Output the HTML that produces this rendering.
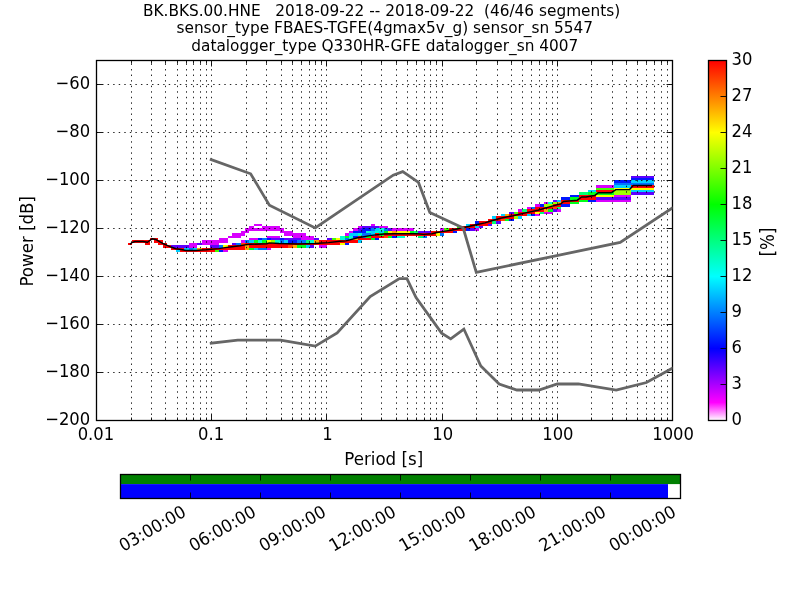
<!DOCTYPE html><html><head><meta charset="utf-8"><title>PPSD</title>
<style>html,body{margin:0;padding:0;background:#fff;}svg{display:block;}text{font-family:"DejaVu Sans","Liberation Sans",sans-serif;fill:#000;white-space:pre;}</style></head><body>
<svg width="800" height="600" viewBox="0 0 800 600">
<defs><linearGradient id="cb" x1="0" y1="1" x2="0" y2="0">
<stop offset="0" stop-color="#ffffff"/>
<stop offset="0.05" stop-color="#ff00ff"/>
<stop offset="0.2" stop-color="#0000ff"/>
<stop offset="0.4" stop-color="#00ffff"/>
<stop offset="0.6" stop-color="#00ff00"/>
<stop offset="0.8" stop-color="#ffff00"/>
<stop offset="1" stop-color="#ff0000"/>
</linearGradient></defs>
<rect x="0" y="0" width="800" height="600" fill="#fff"/>
<g shape-rendering="crispEdges"><path d="M128 243H132V245H128zM132 240H150V243H132zM145 243H150V245H145zM150 238H158V240H150zM154 240H163V243H154zM158 243H167V245H158zM163 245H171V248H163zM171 248H184V250H171zM180 250H215V252H180zM202 248H245V250H202zM228 245H245V248H228zM245 243H340V245H245zM249 245H288V248H249zM319 240H358V243H319zM358 236H362V238H358zM358 238H371V240H358zM371 236H384V238H371zM375 233H379V236H375zM384 233H436V236H384zM431 231H453V233H431zM449 228H466V231H449zM462 226H475V228H462zM470 224H488V226H470zM479 221H492V224H479zM488 219H501V221H488zM496 216H514V219H496zM509 214H527V216H509zM518 212H535V214H518zM527 209H544V212H527zM535 207H553V209H535zM553 204H561V207H553zM561 200H579V202H561zM561 202H570V204H561zM579 195H596V197H579zM579 197H596V200H579zM596 190H614V192H596zM631 185H654V188H631z" fill="#ff0000"/><path d="M171 245H189V248H171zM197 243H202V245H197zM210 245H219V248H210zM232 243H236V245H232zM271 238H280V240H271zM284 238H301V240H284zM310 245H314V248H310zM314 238H319V240H314zM327 238H332V240H327zM358 228H362V231H358zM362 226H379V228H362zM388 228H392V231H388zM418 231H431V233H418zM470 228H475V231H470zM479 226H483V228H479zM488 224H492V226H488zM496 221H501V224H496zM509 212H514V214H509zM553 200H557V202H553zM553 209H557V212H553zM596 197H631V200H596zM631 176H654V178H631zM631 192H654V195H631z" fill="#5e00ff"/><path d="M176 250H180V252H176zM184 248H189V250H184zM193 248H197V250H193zM249 240H254V243H249zM254 248H258V250H254zM284 240H288V243H284zM306 245H310V248H306zM349 233H358V236H349zM358 240H362V243H358zM371 231H375V233H371zM371 233H375V236H371zM375 228H379V231H375zM379 231H384V233H379zM466 224H470V226H466zM475 226H479V228H475zM492 216H496V219H492zM501 214H505V216H501zM518 216H522V219H518zM527 214H531V216H527zM557 200H561V202H557zM588 190H596V192H588zM614 185H631V188H614zM631 180H654V183H631zM631 190H654V192H631z" fill="#00cfff"/><path d="M189 243H197V245H189zM189 245H197V248H189zM202 240H228V243H202zM202 243H219V245H202zM219 238H228V240H219zM223 250H228V252H223zM228 236H241V238H228zM232 233H245V236H232zM241 231H249V233H241zM241 240H245V243H241zM245 228H284V231H245zM249 226H254V228H249zM249 238H258V240H249zM254 224H262V226H254zM262 226H280V228H262zM267 236H280V238H267zM267 248H271V250H267zM280 231H293V233H280zM284 233H306V236H284zM293 236H314V238H293zM301 238H314V240H301zM319 245H327V248H319zM345 233H349V236H345zM349 231H353V233H349zM353 228H358V231H353zM358 226H362V228H358zM371 224H375V226H371zM379 226H388V228H379zM392 228H414V231H392zM440 228H444V231H440zM475 228H479V231H475zM518 209H522V212H518zM527 207H531V209H527zM535 204H540V207H535zM535 214H540V216H535zM544 202H548V204H544zM544 212H553V214H544zM557 209H561V212H557zM596 185H614V188H596zM596 200H631V202H596zM614 195H631V197H614z" fill="#d900ff"/><path d="M189 248H193V250H189zM219 245H223V248H219zM236 243H241V245H236zM245 240H249V243H245zM258 248H267V250H258zM262 238H267V240H262zM280 240H284V243H280zM297 240H306V243H297zM345 238H349V240H345zM362 233H371V236H362zM362 236H366V238H362zM371 228H375V231H371zM384 228H388V231H384zM423 236H427V238H423zM440 233H444V236H440zM531 207H535V209H531zM614 183H654V185H614z" fill="#0073ff"/><path d="M197 248H202V250H197zM245 245H249V248H245zM245 248H249V250H245zM293 245H297V248H293zM314 240H319V243H314zM353 238H358V240H353zM392 231H397V233H392zM505 214H509V216H505zM544 209H548V212H544zM557 202H561V204H557z" fill="#ffa600"/><path d="M215 250H219V252H215zM332 238H336V240H332zM444 228H449V231H444zM457 226H462V228H457zM514 212H518V214H514zM596 188H614V190H596z" fill="#43ff00"/><path d="M219 250H223V252H219zM258 238H262V240H258zM267 238H271V240H267zM280 238H284V240H280zM288 240H297V243H288zM345 243H349V245H345zM353 231H366V233H353zM353 236H358V238H353zM362 228H371V231H362zM375 238H379V240H375zM392 236H397V238H392zM453 231H457V233H453zM466 228H470V231H466zM475 221H479V224H475zM509 219H514V221H509zM531 214H535V216H531zM540 204H544V207H540zM561 197H570V200H561zM561 204H570V207H561zM570 195H579V197H570zM588 200H596V202H588zM614 180H631V183H614zM631 178H654V180H631z" fill="#0016ff"/><path d="M223 245H228V248H223zM267 240H271V243H267zM336 238H340V240H336zM340 243H345V245H340zM388 231H392V233H388zM397 231H410V233H397zM436 233H440V236H436zM535 212H540V214H535zM596 195H614V197H596zM614 188H654V190H614z" fill="#fbff00"/><path d="M241 243H245V245H241zM288 245H293V248H288zM384 236H388V238H384zM501 219H505V221H501zM553 207H557V209H553z" fill="#ff4a00"/><path d="M249 248H254V250H249zM254 240H258V243H254zM262 240H267V243H262zM297 245H306V248H297zM345 236H349V238H345zM366 236H371V238H366zM371 238H375V240H371zM379 233H384V236H379zM384 231H388V233H384zM388 236H392V238H388zM410 231H414V233H410zM505 219H509V221H505zM548 209H553V212H548zM570 197H579V200H570zM570 202H579V204H570zM579 200H588V202H579zM588 192H614V195H588z" fill="#00ff1a"/><path d="M258 240H262V243H258zM275 240H280V243H275zM310 240H314V243H310zM340 236H345V238H340zM340 238H345V240H340zM349 236H353V238H349zM349 238H353V240H349zM358 233H362V236H358zM366 231H371V233H366zM375 231H379V233H375zM379 228H384V231H379zM397 236H405V238H397zM548 202H553V204H548z" fill="#00ffd3"/><path d="M271 240H275V243H271zM514 216H518V219H514zM544 204H553V207H544zM553 202H557V204H553zM614 190H631V192H614zM614 192H631V195H614z" fill="#9fff00"/><path d="M306 240H310V243H306zM414 231H418V233H414zM418 236H423V238H418zM492 221H496V224H492zM522 209H527V212H522zM540 212H544V214H540zM557 207H561V209H557zM579 192H588V195H579z" fill="#00ff76"/></g>
<path d="M131.5 420.5V60.5 M151.5 420.5V60.5 M165.5 420.5V60.5 M177.5 420.5V60.5 M186.5 420.5V60.5 M193.5 420.5V60.5 M200.5 420.5V60.5 M206.5 420.5V60.5 M211.5 420.5V60.5 M246.5 420.5V60.5 M266.5 420.5V60.5 M281.5 420.5V60.5 M292.5 420.5V60.5 M301.5 420.5V60.5 M309.5 420.5V60.5 M315.5 420.5V60.5 M321.5 420.5V60.5 M326.5 420.5V60.5 M361.5 420.5V60.5 M381.5 420.5V60.5 M396.5 420.5V60.5 M407.5 420.5V60.5 M416.5 420.5V60.5 M424.5 420.5V60.5 M430.5 420.5V60.5 M436.5 420.5V60.5 M442.5 420.5V60.5 M476.5 420.5V60.5 M497.5 420.5V60.5 M511.5 420.5V60.5 M522.5 420.5V60.5 M531.5 420.5V60.5 M539.5 420.5V60.5 M546.5 420.5V60.5 M552.5 420.5V60.5 M557.5 420.5V60.5 M591.5 420.5V60.5 M612.5 420.5V60.5 M626.5 420.5V60.5 M637.5 420.5V60.5 M646.5 420.5V60.5 M654.5 420.5V60.5 M661.5 420.5V60.5 M667.5 420.5V60.5 M96.5 84.5H672.5 M96.5 132.5H672.5 M96.5 180.5H672.5 M96.5 228.5H672.5 M96.5 276.5H672.5 M96.5 324.5H672.5 M96.5 372.5H672.5" stroke="#000" stroke-width="0.85" stroke-dasharray="1.45 4.106" fill="none"/>
<path d="M96.5 420.5v-6M96.5 60.5v6 M131.5 420.5v-3M131.5 60.5v3 M151.5 420.5v-3M151.5 60.5v3 M165.5 420.5v-3M165.5 60.5v3 M177.5 420.5v-3M177.5 60.5v3 M186.5 420.5v-3M186.5 60.5v3 M193.5 420.5v-3M193.5 60.5v3 M200.5 420.5v-3M200.5 60.5v3 M206.5 420.5v-3M206.5 60.5v3 M211.5 420.5v-6M211.5 60.5v6 M246.5 420.5v-3M246.5 60.5v3 M266.5 420.5v-3M266.5 60.5v3 M281.5 420.5v-3M281.5 60.5v3 M292.5 420.5v-3M292.5 60.5v3 M301.5 420.5v-3M301.5 60.5v3 M309.5 420.5v-3M309.5 60.5v3 M315.5 420.5v-3M315.5 60.5v3 M321.5 420.5v-3M321.5 60.5v3 M326.5 420.5v-6M326.5 60.5v6 M361.5 420.5v-3M361.5 60.5v3 M381.5 420.5v-3M381.5 60.5v3 M396.5 420.5v-3M396.5 60.5v3 M407.5 420.5v-3M407.5 60.5v3 M416.5 420.5v-3M416.5 60.5v3 M424.5 420.5v-3M424.5 60.5v3 M430.5 420.5v-3M430.5 60.5v3 M436.5 420.5v-3M436.5 60.5v3 M442.5 420.5v-6M442.5 60.5v6 M476.5 420.5v-3M476.5 60.5v3 M497.5 420.5v-3M497.5 60.5v3 M511.5 420.5v-3M511.5 60.5v3 M522.5 420.5v-3M522.5 60.5v3 M531.5 420.5v-3M531.5 60.5v3 M539.5 420.5v-3M539.5 60.5v3 M546.5 420.5v-3M546.5 60.5v3 M552.5 420.5v-3M552.5 60.5v3 M557.5 420.5v-6M557.5 60.5v6 M591.5 420.5v-3M591.5 60.5v3 M612.5 420.5v-3M612.5 60.5v3 M626.5 420.5v-3M626.5 60.5v3 M637.5 420.5v-3M637.5 60.5v3 M646.5 420.5v-3M646.5 60.5v3 M654.5 420.5v-3M654.5 60.5v3 M661.5 420.5v-3M661.5 60.5v3 M667.5 420.5v-3M667.5 60.5v3 M672.5 420.5v-6M672.5 60.5v6 M96.5 84.5h6M672.5 84.5h-6 M96.5 132.5h6M672.5 132.5h-6 M96.5 180.5h6M672.5 180.5h-6 M96.5 228.5h6M672.5 228.5h-6 M96.5 276.5h6M672.5 276.5h-6 M96.5 324.5h6M672.5 324.5h-6 M96.5 372.5h6M672.5 372.5h-6 M96.5 420.5h6M672.5 420.5h-6" stroke="#000" stroke-width="0.9" fill="none"/>
<rect x="96.5" y="60.5" width="576.0" height="360.0" fill="none" stroke="#000" stroke-width="1.3"/>
<clipPath id="ax"><rect x="96" y="60" width="576.5" height="360.5"/></clipPath>
<g clip-path="url(#ax)" fill="none" stroke-linejoin="round" stroke-linecap="square"><path d="M130.50 244.05 L132.00 242.60 L135.00 241.55 L143.00 241.50 L147.50 242.30 L150.00 240.30 L152.00 238.80 L156.00 239.55 L160.00 241.80 L164.00 244.05 L166.00 244.80 L171.00 247.05 L176.00 248.80 L181.00 249.55 L186.00 250.55 L196.00 250.55 L201.00 250.05 L206.00 249.80 L218.75 248.60 L225.00 247.60 L232.00 246.70 L240.00 245.80 L245.00 244.90 L250.00 244.30 L266.75 243.80 L269.25 242.90 L279.00 243.55 L298.00 244.00 L314.75 243.55 L328.50 242.60 L339.75 241.30 L346.00 240.90 L357.75 237.70 L371.50 235.40 L384.00 234.00 L394.00 233.70 L417.00 233.80 L423.25 234.40 L432.00 233.80 L437.00 232.55 L442.00 231.60 L452.50 230.05 L465.00 227.20 L475.00 225.05 L485.00 222.90 L490.00 221.30 L500.50 218.20 L513.00 215.70 L525.50 212.90 L538.00 210.20 L548.50 207.10 L561.00 203.70 L563.50 201.50 L577.25 200.20 L581.60 197.00 L586.00 197.00 L594.60 195.55 L598.40 192.70 L611.50 192.70 L615.90 189.60 L629.60 189.60 L633.25 185.55 L651.30 185.55" stroke="#000" stroke-width="1.45"/>
<path d="M211.20 159.60 L250.65 173.78 L269.39 205.20 L315.24 228.00 L393.19 175.20 L402.75 171.60 L418.48 182.40 L429.81 212.40 L463.20 228.00 L476.28 272.40 L620.16 242.40 L672.00 208.25" stroke="#666" stroke-width="2.78" stroke-linejoin="miter"/>
<path d="M211.20 343.20 L237.75 340.08 L280.56 340.08 L315.24 346.08 L337.16 332.88 L370.20 296.64 L399.38 278.64 L406.92 278.64 L416.04 297.60 L441.60 333.12 L450.72 338.88 L463.85 329.04 L480.82 366.00 L499.16 384.00 L516.85 390.00 L538.96 390.00 L557.30 384.00 L578.40 384.00 L616.23 390.00 L646.44 382.56 L672.00 368.35" stroke="#666" stroke-width="2.78" stroke-linejoin="miter"/>
</g>
<text transform="translate(95.90,439.70) scale(0.985,1.04)" font-size="16.67" text-anchor="middle" xml:space="preserve">0.01</text>
<text transform="translate(211.10,439.70) scale(0.985,1.04)" font-size="16.67" text-anchor="middle" xml:space="preserve">0.1</text>
<text transform="translate(327.50,439.70) scale(0.985,1.04)" font-size="16.67" text-anchor="middle" xml:space="preserve">1</text>
<text transform="translate(442.70,439.70) scale(0.985,1.04)" font-size="16.67" text-anchor="middle" xml:space="preserve">10</text>
<text transform="translate(557.90,439.70) scale(0.985,1.04)" font-size="16.67" text-anchor="middle" xml:space="preserve">100</text>
<text transform="translate(673.10,439.70) scale(0.985,1.04)" font-size="16.67" text-anchor="middle" xml:space="preserve">1000</text>
<text transform="translate(90.20,89.30) scale(0.985,1.07)" font-size="16.67" text-anchor="end" xml:space="preserve">−60</text>
<text transform="translate(90.20,137.30) scale(0.985,1.07)" font-size="16.67" text-anchor="end" xml:space="preserve">−80</text>
<text transform="translate(90.20,185.30) scale(0.985,1.07)" font-size="16.67" text-anchor="end" xml:space="preserve">−100</text>
<text transform="translate(90.20,233.30) scale(0.985,1.07)" font-size="16.67" text-anchor="end" xml:space="preserve">−120</text>
<text transform="translate(90.20,281.30) scale(0.985,1.07)" font-size="16.67" text-anchor="end" xml:space="preserve">−140</text>
<text transform="translate(90.20,329.30) scale(0.985,1.07)" font-size="16.67" text-anchor="end" xml:space="preserve">−160</text>
<text transform="translate(90.20,377.30) scale(0.985,1.07)" font-size="16.67" text-anchor="end" xml:space="preserve">−180</text>
<text transform="translate(90.20,425.30) scale(0.985,1.07)" font-size="16.67" text-anchor="end" xml:space="preserve">−200</text>
<text transform="translate(383.70,464.50) scale(1.0,1.07)" font-size="16.67" text-anchor="middle" xml:space="preserve">Period [s]</text>
<text transform="translate(33.00,241.30) rotate(-90) scale(1.0,1.07)" font-size="16.67" text-anchor="middle" xml:space="preserve">Power [dB]</text>
<text transform="translate(381.60,15.60) scale(1.004,1.0)" font-size="15.28" text-anchor="middle" xml:space="preserve">BK.BKS.00.HNE   2018-09-22 -- 2018-09-22  (46/46 segments)</text>
<text transform="translate(384.80,33.30) scale(1.004,1.0)" font-size="15.28" text-anchor="middle" xml:space="preserve">sensor_type FBAES-TGFE(4gmax5v_g) sensor_sn 5547</text>
<text transform="translate(384.80,51.00) scale(1.004,1.0)" font-size="15.28" text-anchor="middle" xml:space="preserve">datalogger_type Q330HR-GFE datalogger_sn 4007</text>
<rect x="708.5" y="60.5" width="18" height="360.0" fill="url(#cb)" stroke="#000" stroke-width="1.3"/>
<text transform="translate(731.50,425.00) scale(0.985,1.07)" font-size="16.67" text-anchor="start" xml:space="preserve">0</text>
<text transform="translate(731.50,389.00) scale(0.985,1.07)" font-size="16.67" text-anchor="start" xml:space="preserve">3</text>
<text transform="translate(731.50,353.00) scale(0.985,1.07)" font-size="16.67" text-anchor="start" xml:space="preserve">6</text>
<text transform="translate(731.50,317.00) scale(0.985,1.07)" font-size="16.67" text-anchor="start" xml:space="preserve">9</text>
<text transform="translate(731.50,281.00) scale(0.985,1.07)" font-size="16.67" text-anchor="start" xml:space="preserve">12</text>
<text transform="translate(731.50,245.00) scale(0.985,1.07)" font-size="16.67" text-anchor="start" xml:space="preserve">15</text>
<text transform="translate(731.50,209.00) scale(0.985,1.07)" font-size="16.67" text-anchor="start" xml:space="preserve">18</text>
<text transform="translate(731.50,173.00) scale(0.985,1.07)" font-size="16.67" text-anchor="start" xml:space="preserve">21</text>
<text transform="translate(731.50,137.00) scale(0.985,1.07)" font-size="16.67" text-anchor="start" xml:space="preserve">24</text>
<text transform="translate(731.50,101.00) scale(0.985,1.07)" font-size="16.67" text-anchor="start" xml:space="preserve">27</text>
<text transform="translate(731.50,65.00) scale(0.985,1.07)" font-size="16.67" text-anchor="start" xml:space="preserve">30</text>
<path d="M726.5 420.5h-6 M726.5 384.5h-6 M726.5 348.5h-6 M726.5 312.5h-6 M726.5 276.5h-6 M726.5 240.5h-6 M726.5 204.5h-6 M726.5 168.5h-6 M726.5 132.5h-6 M726.5 96.5h-6 M726.5 60.5h-6" stroke="#000" stroke-width="0.9" fill="none"/>
<text transform="translate(774.00,242.00) rotate(-90) scale(1.0,1.12)" font-size="16.67" text-anchor="middle" xml:space="preserve">[%]</text>
<rect x="120.5" y="474.5" width="560" height="9.6" fill="#008000"/>
<rect x="120.5" y="484.1" width="547.5" height="14.4" fill="#0000ff"/>
<path d="M190.5 498.5v-6M190.5 474.5v6 M260.5 498.5v-6M260.5 474.5v6 M330.5 498.5v-6M330.5 474.5v6 M400.5 498.5v-6M400.5 474.5v6 M470.5 498.5v-6M470.5 474.5v6 M540.5 498.5v-6M540.5 474.5v6 M610.5 498.5v-6M610.5 474.5v6 M680.5 498.5v-6M680.5 474.5v6" stroke="#000" stroke-width="0.9" fill="none"/>
<rect x="120.5" y="474.5" width="560" height="24" fill="none" stroke="#000" stroke-width="1.3"/>
<text transform="translate(187.30,515.20) rotate(-30) scale(0.985,1.05)" font-size="16.67" text-anchor="end" xml:space="preserve">03:00:00</text>
<text transform="translate(257.30,515.20) rotate(-30) scale(0.985,1.05)" font-size="16.67" text-anchor="end" xml:space="preserve">06:00:00</text>
<text transform="translate(327.30,515.20) rotate(-30) scale(0.985,1.05)" font-size="16.67" text-anchor="end" xml:space="preserve">09:00:00</text>
<text transform="translate(397.30,515.20) rotate(-30) scale(0.985,1.05)" font-size="16.67" text-anchor="end" xml:space="preserve">12:00:00</text>
<text transform="translate(467.30,515.20) rotate(-30) scale(0.985,1.05)" font-size="16.67" text-anchor="end" xml:space="preserve">15:00:00</text>
<text transform="translate(537.30,515.20) rotate(-30) scale(0.985,1.05)" font-size="16.67" text-anchor="end" xml:space="preserve">18:00:00</text>
<text transform="translate(607.30,515.20) rotate(-30) scale(0.985,1.05)" font-size="16.67" text-anchor="end" xml:space="preserve">21:00:00</text>
<text transform="translate(677.30,515.20) rotate(-30) scale(0.985,1.05)" font-size="16.67" text-anchor="end" xml:space="preserve">00:00:00</text>
</svg></body></html>
